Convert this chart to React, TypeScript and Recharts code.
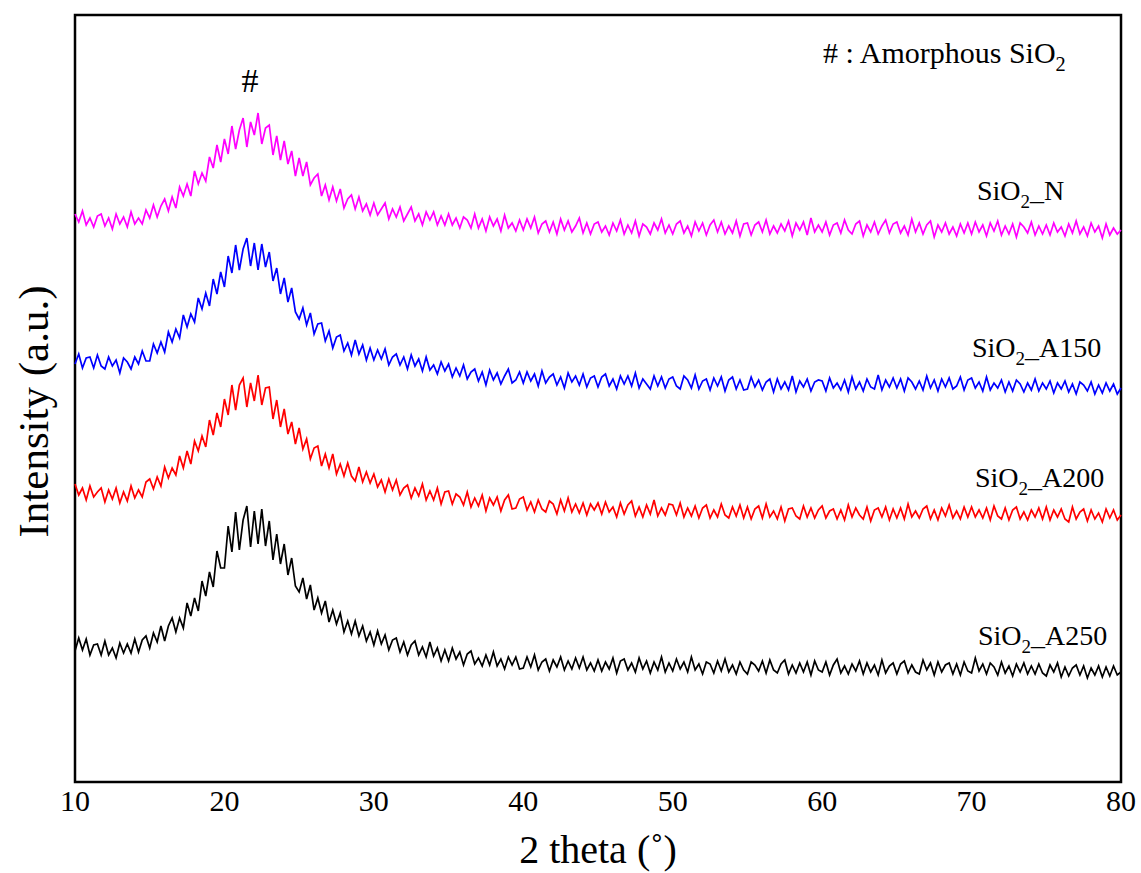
import { Label, Line, LineChart, ReferenceArea, ReferenceDot, XAxis, YAxis } from 'recharts'

const FONT = '"Liberation Serif", "Times New Roman", serif'

// 2θ sampling grid, 10° .. 80° every 0.25°
const theta = Array.from({ length: 281 }, (_, i) => 10 + i * 0.25)
const thetaTicks = [10, 20, 30, 40, 50, 60, 70, 80]

// intensities (a.u.), one row per 5°
const sio2N = [
  568, 560, 571, 557, 564, 555, 566, 568, 556, 564, 553, 568, 558, 565, 555, 570, 558, 564, 558, 572,
  564, 577, 565, 576, 583, 571, 585, 574, 595, 586, 598, 586, 611, 598, 609, 601, 625, 614, 637, 620,
  643, 628, 656, 633, 652, 664, 635, 660, 647, 669, 638, 654, 657, 627, 646, 622, 641, 618, 631, 606,
  624, 606, 620, 597, 604, 608, 586, 597, 582, 595, 581, 593, 574, 583, 587, 573, 585, 571, 578, 567,
  579, 567, 573, 579, 563, 573, 565, 575, 561, 568, 575, 561, 568, 557, 570, 562, 570, 557, 566, 557,
  568, 557, 564, 554, 565, 562, 554, 568, 554, 563, 551, 565, 556, 563, 551, 567, 554, 559, 551, 562,
  552, 563, 554, 565, 549, 558, 561, 550, 560, 548, 563, 552, 561, 550, 556, 564, 549, 559, 548, 558,
  560, 550, 556, 547, 559, 551, 562, 548, 557, 549, 561, 546, 558, 555, 548, 559, 552, 563, 549, 557,
  548, 558, 561, 549, 556, 546, 560, 551, 559, 547, 557, 562, 550, 560, 548, 556, 549, 561, 546, 558,
  559, 547, 557, 560, 550, 562, 548, 556, 549, 558, 551, 561, 546, 559, 552, 560, 547, 564, 550, 557,
  550, 560, 547, 557, 559, 549, 562, 552, 548, 558, 561, 546, 557, 550, 560, 548, 556, 562, 549, 558,
  560, 549, 556, 547, 563, 550, 559, 548, 557, 561, 545, 557, 550, 559, 548, 555, 546, 558, 549, 559,
  548, 560, 550, 557, 546, 559, 551, 561, 547, 556, 548, 558, 545, 559, 555, 549, 560, 547, 556, 548,
  557, 547, 559, 550, 555, 546, 558, 549, 561, 548, 555, 546, 559, 550, 556, 544, 558, 547, 554, 548,
  552,
]

const sio2A150 = [
  418, 428, 414, 424, 425, 414, 427, 416, 413, 425, 416, 422, 409, 424, 420, 413, 425, 418, 431, 421,
  421, 438, 429, 440, 430, 450, 440, 453, 444, 467, 455, 468, 460, 484, 473, 489, 476, 503, 488, 510,
  495, 526, 509, 537, 512, 533, 544, 516, 539, 512, 538, 515, 530, 501, 514, 488, 504, 480, 494, 470,
  463, 474, 457, 469, 448, 458, 459, 441, 451, 434, 445, 447, 431, 439, 427, 442, 428, 437, 422, 434,
  422, 432, 423, 433, 417, 425, 428, 417, 425, 413, 427, 416, 423, 411, 425, 412, 417, 408, 420, 411,
  418, 405, 414, 406, 417, 403, 410, 413, 401, 410, 397, 412, 402, 409, 398, 406, 413, 399, 402, 410,
  399, 410, 401, 408, 396, 411, 399, 405, 408, 397, 405, 394, 409, 400, 406, 397, 408, 395, 404, 406,
  395, 405, 408, 396, 403, 393, 406, 398, 406, 396, 409, 394, 403, 398, 393, 406, 396, 405, 394, 403,
  405, 396, 393, 406, 402, 394, 407, 393, 401, 403, 392, 404, 396, 405, 391, 402, 405, 393, 402, 392,
  393, 405, 395, 402, 392, 400, 403, 390, 403, 393, 400, 392, 406, 390, 401, 395, 403, 391, 400, 402,
  401, 391, 404, 394, 399, 392, 402, 390, 405, 393, 400, 391, 403, 395, 393, 407, 392, 402, 395, 404,
  394, 403, 391, 404, 400, 393, 401, 392, 406, 394, 402, 391, 403, 395, 404, 393, 396, 405, 392, 402,
  404, 394, 400, 391, 405, 392, 399, 394, 402, 390, 400, 391, 402, 398, 390, 399, 392, 403, 391, 399,
  393, 401, 389, 399, 393, 401, 390, 398, 388, 400, 397, 391, 400, 388, 397, 389, 399, 391, 398, 388,
  394,
]

const sio2A200 = [
  298, 287, 294, 282, 296, 285, 290, 294, 280, 292, 283, 294, 279, 290, 281, 296, 284, 292, 285, 300,
  303, 293, 305, 296, 315, 304, 314, 307, 326, 314, 331, 318, 341, 331, 346, 335, 362, 347, 369, 355,
  383, 367, 397, 372, 397, 404, 375, 399, 381, 407, 377, 394, 395, 363, 382, 355, 373, 348, 360, 338,
  354, 333, 343, 323, 334, 336, 316, 328, 314, 328, 308, 318, 306, 319, 306, 301, 315, 300, 310, 299,
  308, 295, 302, 290, 303, 292, 302, 287, 294, 297, 284, 294, 286, 298, 282, 291, 282, 294, 278, 290,
  291, 278, 288, 285, 277, 290, 275, 284, 276, 287, 271, 284, 277, 285, 271, 282, 287, 273, 274, 283,
  285, 272, 280, 270, 282, 273, 270, 281, 278, 268, 282, 271, 284, 270, 278, 269, 279, 267, 278, 272,
  279, 268, 280, 270, 275, 265, 279, 268, 277, 281, 266, 275, 265, 277, 268, 282, 266, 274, 267, 278,
  277, 267, 279, 265, 274, 266, 276, 264, 274, 277, 264, 272, 265, 278, 267, 264, 275, 266, 277, 264,
  275, 263, 273, 276, 264, 278, 265, 271, 263, 275, 261, 273, 274, 266, 263, 276, 265, 274, 264, 272,
  276, 264, 271, 273, 263, 272, 262, 277, 265, 274, 267, 263, 275, 261, 272, 274, 265, 275, 262, 273,
  264, 274, 263, 278, 265, 271, 264, 273, 276, 263, 272, 262, 274, 266, 277, 264, 271, 263, 275, 265,
  275, 265, 272, 264, 274, 262, 276, 266, 263, 274, 262, 272, 275, 263, 270, 262, 272, 265, 274, 263,
  275, 262, 272, 265, 273, 263, 260, 275, 263, 270, 273, 261, 272, 263, 269, 260, 273, 264, 272, 262,
  267,
]

const sio2A250 = [
  131, 144, 132, 143, 127, 137, 138, 127, 141, 127, 134, 124, 139, 129, 138, 129, 143, 130, 142, 146,
  134, 149, 140, 156, 141, 156, 164, 150, 164, 154, 179, 166, 184, 171, 201, 186, 210, 195, 231, 214,
  214, 256, 230, 270, 232, 262, 276, 235, 271, 238, 273, 236, 261, 222, 248, 218, 238, 207, 224, 196,
  190, 204, 183, 197, 172, 184, 169, 181, 160, 172, 158, 169, 150, 161, 148, 161, 146, 156, 141, 150,
  137, 151, 138, 147, 132, 142, 144, 130, 140, 127, 137, 141, 127, 135, 125, 140, 126, 134, 121, 132,
  121, 134, 123, 130, 117, 128, 131, 118, 124, 116, 127, 117, 130, 116, 123, 113, 125, 117, 125, 113,
  114, 125, 115, 127, 112, 120, 123, 111, 122, 115, 125, 112, 121, 113, 124, 114, 125, 112, 119, 111,
  122, 111, 120, 113, 124, 109, 121, 123, 112, 119, 110, 124, 113, 121, 109, 120, 112, 125, 110, 119,
  111, 123, 113, 120, 110, 125, 112, 118, 108, 120, 118, 109, 121, 111, 123, 110, 117, 108, 120, 112,
  108, 120, 117, 111, 121, 109, 122, 112, 109, 118, 122, 108, 117, 109, 119, 110, 120, 107, 121, 112,
  110, 120, 107, 117, 123, 109, 116, 108, 118, 111, 121, 108, 119, 110, 117, 107, 122, 109, 116, 119,
  108, 118, 121, 109, 117, 110, 108, 122, 112, 119, 107, 120, 110, 117, 119, 108, 118, 107, 120, 111,
  109, 124, 111, 118, 108, 119, 115, 107, 120, 109, 116, 106, 118, 110, 119, 108, 116, 108, 118, 109,
  106, 117, 110, 119, 105, 115, 106, 114, 117, 107, 116, 104, 114, 107, 116, 105, 115, 106, 116, 107,
  110,
]

const series = [
  { key: 'n', values: sio2N, color: '#ff00ff' },
  { key: 'a150', values: sio2A150, color: '#0000ff' },
  { key: 'a200', values: sio2A200, color: '#ff0000' },
  { key: 'a250', values: sio2A250, color: '#000000' },
]

const data = theta.map((t, i) => {
  const row: Record<string, number> = { theta: t }
  series.forEach(s => {
    row[s.key] = s.values[i]
  })
  return row
})

// sample names, placed next to the right end of each pattern
const sampleLabels = [
  { pre: 'SiO', post: '_N', x: 70.36, y: 582 },
  { pre: 'SiO', post: '_A150', x: 70.03, y: 425 },
  { pre: 'SiO', post: '_A200', x: 70.23, y: 295 },
  { pre: 'SiO', post: '_A250', x: 70.43, y: 137 },
]

const subText = (pre: string, post: string, size: number) => (props: any) => {
  const { x, y } = props.viewBox
  return (
    <text x={x} y={y} fontFamily={FONT} fontSize={size} fill="#000">
      {pre}
      <tspan dy={size * 0.28} fontSize={size * 0.68}>
        2
      </tspan>
      <tspan dy={-size * 0.28}>{post}</tspan>
    </text>
  )
}

const hashMark = (props: any) => {
  const { x, y } = props.viewBox
  return (
    <text x={x} y={y} fontFamily={FONT} fontSize={34} fill="#000" textAnchor="middle">
      #
    </text>
  )
}

const yTitle = (props: any) => {
  const vb = props.viewBox
  const cx = vb.x + 33
  const cy = vb.y + vb.height / 2 + 13
  return (
    <text
      x={cx}
      y={cy}
      transform={`rotate(-90, ${cx}, ${cy})`}
      textAnchor="middle"
      dominantBaseline="central"
      fontFamily={FONT}
      fontSize={43}
      fill="#000"
    >
      Intensity (a.u.)
    </text>
  )
}

const xTitle = (props: any) => {
  const vb = props.viewBox
  return (
    <text
      x={vb.x + vb.width / 2}
      y={vb.y + 81}
      textAnchor="middle"
      fontFamily={FONT}
      fontSize={40}
      fill="#000"
    >
      2 theta (˚)
    </text>
  )
}

export default function App() {
  return (
    <div style={{ position: 'absolute', left: 0, top: 0, background: '#fff' }}>
      <LineChart
        width={1141}
        height={873}
        data={data}
        margin={{ top: 15, right: 20, bottom: 0, left: 0 }}
      >
        <XAxis
          dataKey="theta"
          type="number"
          domain={[10, 80]}
          ticks={thetaTicks}
          height={91}
          axisLine={false}
          tickLine={false}
          tick={{ fontFamily: FONT, fontSize: 30, fill: '#000' }}
        >
          <Label content={xTitle} />
        </XAxis>
        <YAxis type="number" domain={[0, 767]} width={75} tick={false} axisLine={false} tickLine={false}>
          <Label content={yTitle} />
        </YAxis>
        {series.map(s => (
          <Line
            key={s.key}
            dataKey={s.key}
            stroke={s.color}
            strokeWidth={1.7}
            strokeLinejoin="miter"
            dot={false}
            type="linear"
            isAnimationActive={false}
          />
        ))}
        <ReferenceArea
          x1={10}
          x2={80}
          y1={0}
          y2={767}
          fill="none"
          fillOpacity={0}
          stroke="#000"
          strokeWidth={2.5}
        />
        <ReferenceDot x={21.71} y={690} r={0} fill="none" stroke="none" label={{ content: hashMark }} />
        <ReferenceDot
          x={60.06}
          y={719}
          r={0}
          fill="none"
          stroke="none"
          label={{ content: subText('# : Amorphous SiO', '', 30) }}
        />
        {sampleLabels.map(l => (
          <ReferenceDot
            key={l.post}
            x={l.x}
            y={l.y}
            r={0}
            fill="none"
            stroke="none"
            label={{ content: subText(l.pre, l.post, 28) }}
          />
        ))}
      </LineChart>
    </div>
  )
}
